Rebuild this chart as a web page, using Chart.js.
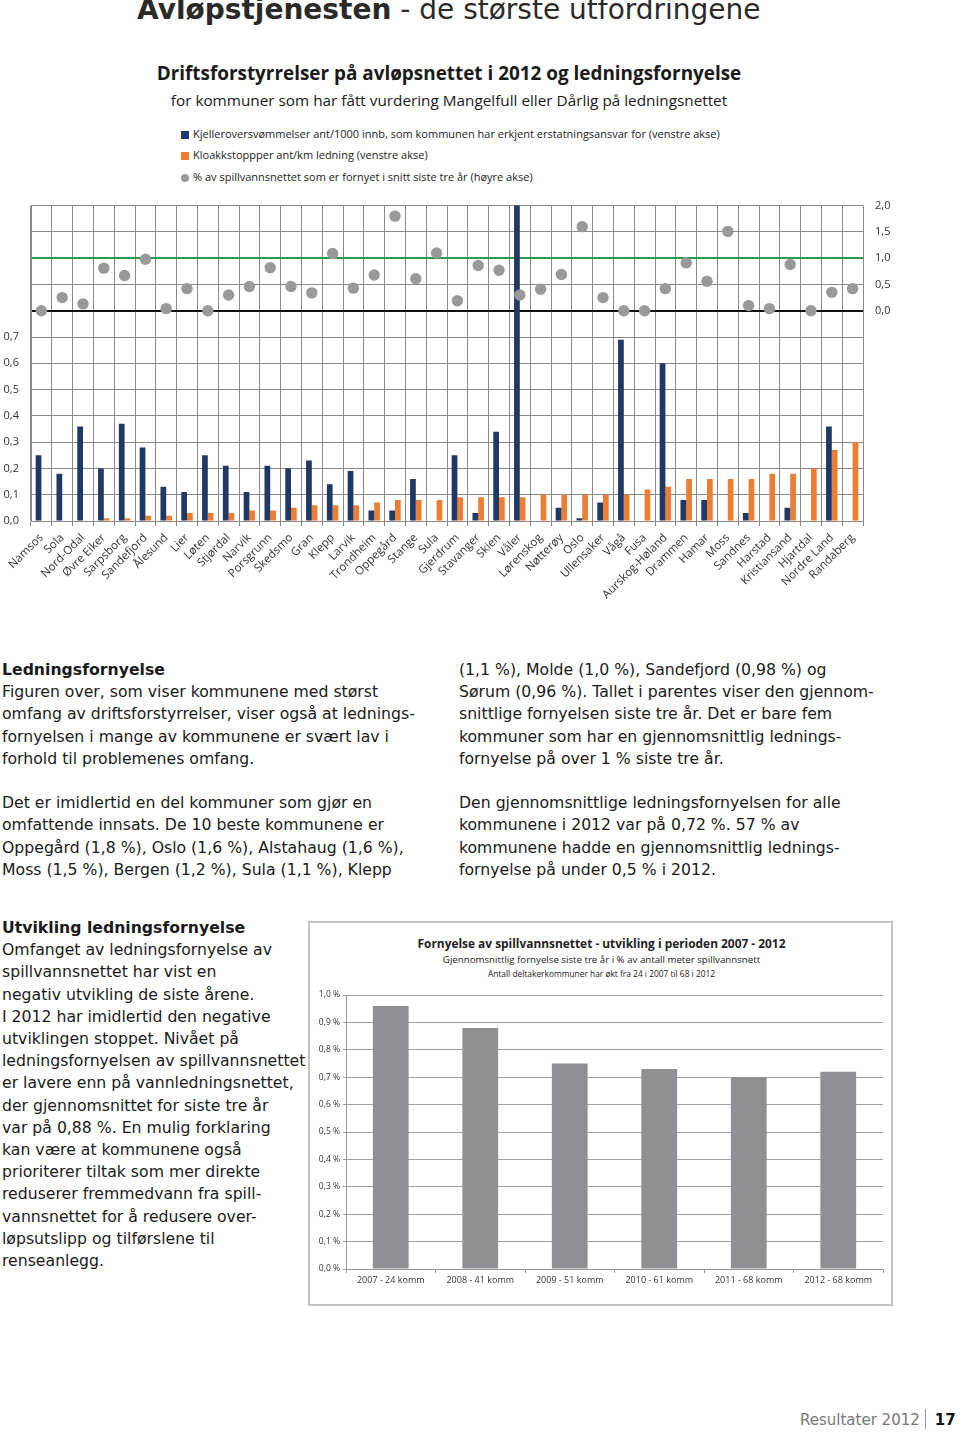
<!DOCTYPE html>
<html lang="no">
<head>
<meta charset="utf-8">
<title>Avløpstjenesten - de største utfordringene</title>
<script src="https://cdn.jsdelivr.net/npm/chart.js@4.4.1/dist/chart.umd.min.js"></script>
<style>
  html, body { margin: 0; padding: 0; background: #fff; }
  body { width: 960px; height: 1433px; position: relative; overflow: hidden; color: #1a1a1a; }
  .abs { position: absolute; white-space: nowrap; }
  .pagetitle { left: 137px; top: -7px; font-family: "DejaVu Sans", sans-serif; font-size: 28px; color: #2a2a2a; }
  .pagetitle b { font-weight: bold; }
  .ctitle { left: 0; width: 898px; text-align: center; font-family: "Open Sans", sans-serif; color: #1a1a1a; }
  .legend { left: 181px; font-family: "Open Sans", sans-serif; font-size: 11px; color: #222; line-height: 14px; }
  .legend i { display: inline-block; width: 8px; height: 8px; margin-right: 4px; vertical-align: -0.5px; }
  .legend i.dot { border-radius: 50%; }
  .body { font-family: "DejaVu Sans", sans-serif; font-size: 15.7px; line-height: 22.2px; color: #1a1a1a; }
  .body b { font-weight: bold; }
  .box { left: 308px; top: 921px; width: 581px; height: 381px; border: 2px solid #c4c4c4; }
  .c2t { left: 310px; width: 583px; text-align: center; font-family: "Open Sans", sans-serif; color: #222; }
  .footer { left: 800px; top: 1409px; font-family: "DejaVu Sans", sans-serif; font-size: 15px; color: #777; }
  .footer b { color: #111; margin-left: 9px; }
  .footer span { display: inline-block; width: 1px; height: 20px; background: #999; vertical-align: -4px; margin-left: 5px; }
</style>
</head>
<body>

<div class="abs pagetitle"><b>Avløpstjenesten</b> - de største utfordringene</div>

<div class="abs ctitle" style="top:60px; font-size:18.9px; font-weight:bold;">Driftsforstyrrelser på avløpsnettet i 2012 og ledningsfornyelse</div>
<div class="abs ctitle" style="top:90px; font-size:15.3px;">for kommuner som har fått vurdering Mangelfull eller Dårlig på ledningsnettet</div>

<div class="abs legend" style="top:127px;"><i style="background:#1f3864"></i>Kjelleroversvømmelser ant/1000 innb, som kommunen har erkjent erstatningsansvar for (venstre akse)</div>
<div class="abs legend" style="top:148px;"><i style="background:#ed7d31"></i>Kloakkstoppper ant/km ledning (venstre akse)</div>
<div class="abs legend" style="top:170px;"><i class="dot" style="background:#999"></i>% av spillvannsnettet som er fornyet i snitt siste tre år (høyre akse)</div>

<div class="abs" style="left:0; top:187px; width:960px; height:429px;">
  <canvas id="mainChart"></canvas>
</div>

<div class="abs body" style="left:2px; top:659px;">
  <b>Ledningsfornyelse</b><br>
  Figuren over, som viser kommunene med størst<br>
  omfang av driftsforstyrrelser, viser også at lednings-<br>
  fornyelsen i mange av kommunene er svært lav i<br>
  forhold til problemenes omfang.<br>
  <br>
  Det er imidlertid en del kommuner som gjør en<br>
  omfattende innsats. De 10 beste kommunene er<br>
  Oppegård (1,8 %), Oslo (1,6 %), Alstahaug (1,6 %),<br>
  Moss (1,5 %), Bergen (1,2 %), Sula (1,1 %), Klepp
</div>

<div class="abs body" style="left:459px; top:659px;">
  (1,1 %), Molde (1,0 %), Sandefjord (0,98 %) og<br>
  Sørum (0,96 %). Tallet i parentes viser den gjennom-<br>
  snittlige fornyelsen siste tre år. Det er bare fem<br>
  kommuner som har en gjennomsnittlig lednings-<br>
  fornyelse på over 1 % siste tre år.<br>
  <br>
  Den gjennomsnittlige ledningsfornyelsen for alle<br>
  kommunene i 2012 var på 0,72 %. 57 % av<br>
  kommunene hadde en gjennomsnittlig lednings-<br>
  fornyelse på under 0,5 % i 2012.
</div>

<div class="abs body" style="left:2px; top:917px;">
  <b>Utvikling ledningsfornyelse</b><br>
  Omfanget av ledningsfornyelse av<br>
  spillvannsnettet har vist en<br>
  negativ utvikling de siste årene.<br>
  I 2012 har imidlertid den negative<br>
  utviklingen stoppet. Nivået på<br>
  ledningsfornyelsen av spillvannsnettet<br>
  er lavere enn på vannledningsnettet,<br>
  der gjennomsnittet for siste tre år<br>
  var på 0,88 %. En mulig forklaring<br>
  kan være at kommunene også<br>
  prioriterer tiltak som mer direkte<br>
  reduserer fremmedvann fra spill-<br>
  vannsnettet for å redusere over-<br>
  løpsutslipp og tilførslene til<br>
  renseanlegg.
</div>

<div class="abs box"></div>
<div class="abs c2t" style="top:935px; font-size:11.9px; font-weight:bold;">Fornyelse av spillvannsnettet - utvikling i perioden 2007 - 2012</div>
<div class="abs c2t" style="top:953px; font-size:9.7px;">Gjennomsnittlig fornyelse siste tre år i % av antall meter spillvannsnett</div>
<div class="abs c2t" style="top:968px; font-size:8.4px;">Antall deltakerkommuner har økt fra 24 i 2007 til 68 i 2012</div>

<div class="abs" style="left:310px; top:985px; width:580px; height:310px;">
  <canvas id="trendChart"></canvas>
</div>

<div class="abs footer">Resultater 2012<span></span><b>17</b></div>

<script>
// --- data: driftsforstyrrelser og fornyelse ---
const kommuner = ['Namsos', 'Sola', 'Nord-Odal', 'Øvre Eiker', 'Sarpsborg', 'Sandefjord', 'Ålesund', 'Lier',
  'Løten', 'Stjørdal', 'Narvik', 'Porsgrunn', 'Skedsmo', 'Gran', 'Klepp', 'Larvik', 'Trondheim', 'Oppegård',
  'Stange', 'Sula', 'Gjerdrum', 'Stavanger', 'Skien', 'Våler', 'Lørenskog', 'Nøtterøy', 'Oslo', 'Ullensaker',
  'Vågå', 'Fusa', 'Aurskog-Høland', 'Drammen', 'Hamar', 'Moss', 'Sandnes', 'Harstad', 'Kristiansand',
  'Hjartdal', 'Nordre Land', 'Randaberg'];

// Kjelleroversvømmelser ant/1000 innb (venstre akse) - Våler går over toppen
const kjeller = [0.25, 0.18, 0.36, 0.20, 0.37, 0.28, 0.13, 0.11, 0.25, 0.21, 0.11, 0.21, 0.20, 0.23, 0.14, 0.19,
  0.04, 0.04, 0.16, 0, 0.25, 0.03, 0.34, 1.5, 0, 0.05, 0.01, 0.07, 0.69, 0, 0.60, 0.08, 0.08, 0, 0.03, 0,
  0.05, 0, 0.36, 0];

// Kloakkstopper ant/km ledning (venstre akse)
const kloakk = [0, 0, 0, 0.01, 0.01, 0.02, 0.02, 0.03, 0.03, 0.03, 0.04, 0.04, 0.05, 0.06, 0.06, 0.06,
  0.07, 0.08, 0.08, 0.08, 0.09, 0.09, 0.09, 0.09, 0.10, 0.10, 0.10, 0.10, 0.10, 0.12, 0.13, 0.16, 0.16,
  0.16, 0.16, 0.18, 0.18, 0.20, 0.27, 0.30];

// % fornyet i snitt siste tre år (høyre akse)
const fornyet = [0.0, 0.25, 0.13, 0.81, 0.67, 0.98, 0.04, 0.42, 0.0, 0.30, 0.46, 0.82, 0.46, 0.34, 1.09, 0.43,
  0.68, 1.80, 0.61, 1.10, 0.19, 0.86, 0.77, 0.30, 0.41, 0.69, 1.60, 0.25, 0.0, 0.0, 0.42, 0.91, 0.56, 1.51,
  0.10, 0.04, 0.88, 0.0, 0.35, 0.42];

// --- data: utvikling 2007 - 2012 ---
const perioder = ['2007 - 24 komm', '2008 - 41 komm', '2009 - 51 komm', '2010 - 61 komm', '2011 - 68 komm', '2012 - 68 komm'];
const fornyelse = [0.96, 0.88, 0.75, 0.73, 0.70, 0.72];

const fmt = (v, d) => v.toFixed(d).replace('.', ',');
const gridGray = '#8a8a8a';

// --- GRAF 1 ---
new Chart(document.getElementById('mainChart'), {
  type: 'bar',
  data: {
    labels: kommuner,
    datasets: [
      {
        type: 'line',
        label: '% av spillvannsnettet som er fornyet i snitt siste tre år (høyre akse)',
        data: fornyet,
        yAxisID: 'y2',
        showLine: false,
        pointRadius: 5.7,
        pointBackgroundColor: '#999999',
        pointBorderWidth: 0,
        order: 0
      },
      {
        label: 'Kjelleroversvømmelser ant/1000 innb, som kommunen har erkjent erstatningsansvar for (venstre akse)',
        data: kjeller,
        backgroundColor: '#1f3864',
        yAxisID: 'y',
        categoryPercentage: 0.55,
        barPercentage: 1.0,
        order: 1
      },
      {
        label: 'Kloakkstoppper ant/km ledning (venstre akse)',
        data: kloakk,
        backgroundColor: '#ed7d31',
        yAxisID: 'y',
        categoryPercentage: 0.55,
        barPercentage: 1.0,
        order: 1
      }
    ]
  },
  options: {
    responsive: true,
    maintainAspectRatio: false,
    animation: false,
    layout: { padding: { top: 10, left: 0, right: 0, bottom: 0 } },
    plugins: { legend: { display: false }, tooltip: { enabled: false } },
    scales: {
      x: {
        grid: { color: gridGray, lineWidth: 1, offset: true, tickLength: 5 },
        border: { color: gridGray },
        ticks: {
          color: '#333',
          font: { family: "'Open Sans', sans-serif", size: 11.5 },
          minRotation: 45, maxRotation: 45, autoSkip: false, padding: 5
        },
        afterFit: (s) => { s.height = 95; }
      },
      y: {
        min: 0, max: 1.2,
        grid: { color: gridGray, lineWidth: 1, drawTicks: false },
        border: { color: gridGray },
        ticks: {
          stepSize: 0.1, padding: 12, color: '#333',
          font: { family: "'Open Sans', sans-serif", size: 11 },
          callback: (v) => v <= 0.701 ? fmt(v, 1) : ''
        },
        afterFit: (s) => { s.width = 31; }
      },
      y2: {
        position: 'right',
        min: -4, max: 2,
        grid: {
          drawTicks: false,
          // svart linje ved 0 og grønn linje ved 1 % på høyre akse
          color: (c) => c.tick.value === 0 ? '#111' : (c.tick.value === 1 ? '#2e9a4a' : 'rgba(0,0,0,0)'),
          lineWidth: (c) => (c.tick.value === 0 || c.tick.value === 1) ? 2 : 0
        },
        border: { display: false },
        ticks: {
          stepSize: 0.5, padding: 12, color: '#333',
          font: { family: "'Open Sans', sans-serif", size: 11 },
          callback: (v) => v >= -0.001 ? fmt(v, 1) : ''
        },
        afterFit: (s) => { s.width = 97; }
      }
    }
  }
});

// --- GRAF 2 ---
new Chart(document.getElementById('trendChart'), {
  type: 'bar',
  data: {
    labels: perioder,
    datasets: [{
      label: 'Fornyelse',
      data: fornyelse,
      backgroundColor: '#8f9094',
      categoryPercentage: 1.0,
      barPercentage: 0.4
    }]
  },
  options: {
    responsive: true,
    maintainAspectRatio: false,
    animation: false,
    layout: { padding: { top: 10, right: 7, left: 0, bottom: 0 } },
    plugins: { legend: { display: false }, tooltip: { enabled: false } },
    scales: {
      x: {
        grid: { drawOnChartArea: false, color: '#999', offset: true, tickLength: 4 },
        border: { color: '#999' },
        ticks: { color: '#333', font: { family: "'Open Sans', sans-serif", size: 9 }, maxRotation: 0, padding: 2 },
        afterFit: (s) => { s.height = 26; }
      },
      y: {
        min: 0, max: 1.0,
        grid: { color: '#a0a0a0', tickLength: 3 },
        border: { color: '#999' },
        ticks: {
          stepSize: 0.1, padding: 3, color: '#333',
          font: { family: "'Open Sans', sans-serif", size: 8.5 },
          callback: (v) => fmt(v, 1) + ' %'
        },
        afterFit: (s) => { s.width = 36; }
      }
    }
  }
});
</script>
</body>
</html>
